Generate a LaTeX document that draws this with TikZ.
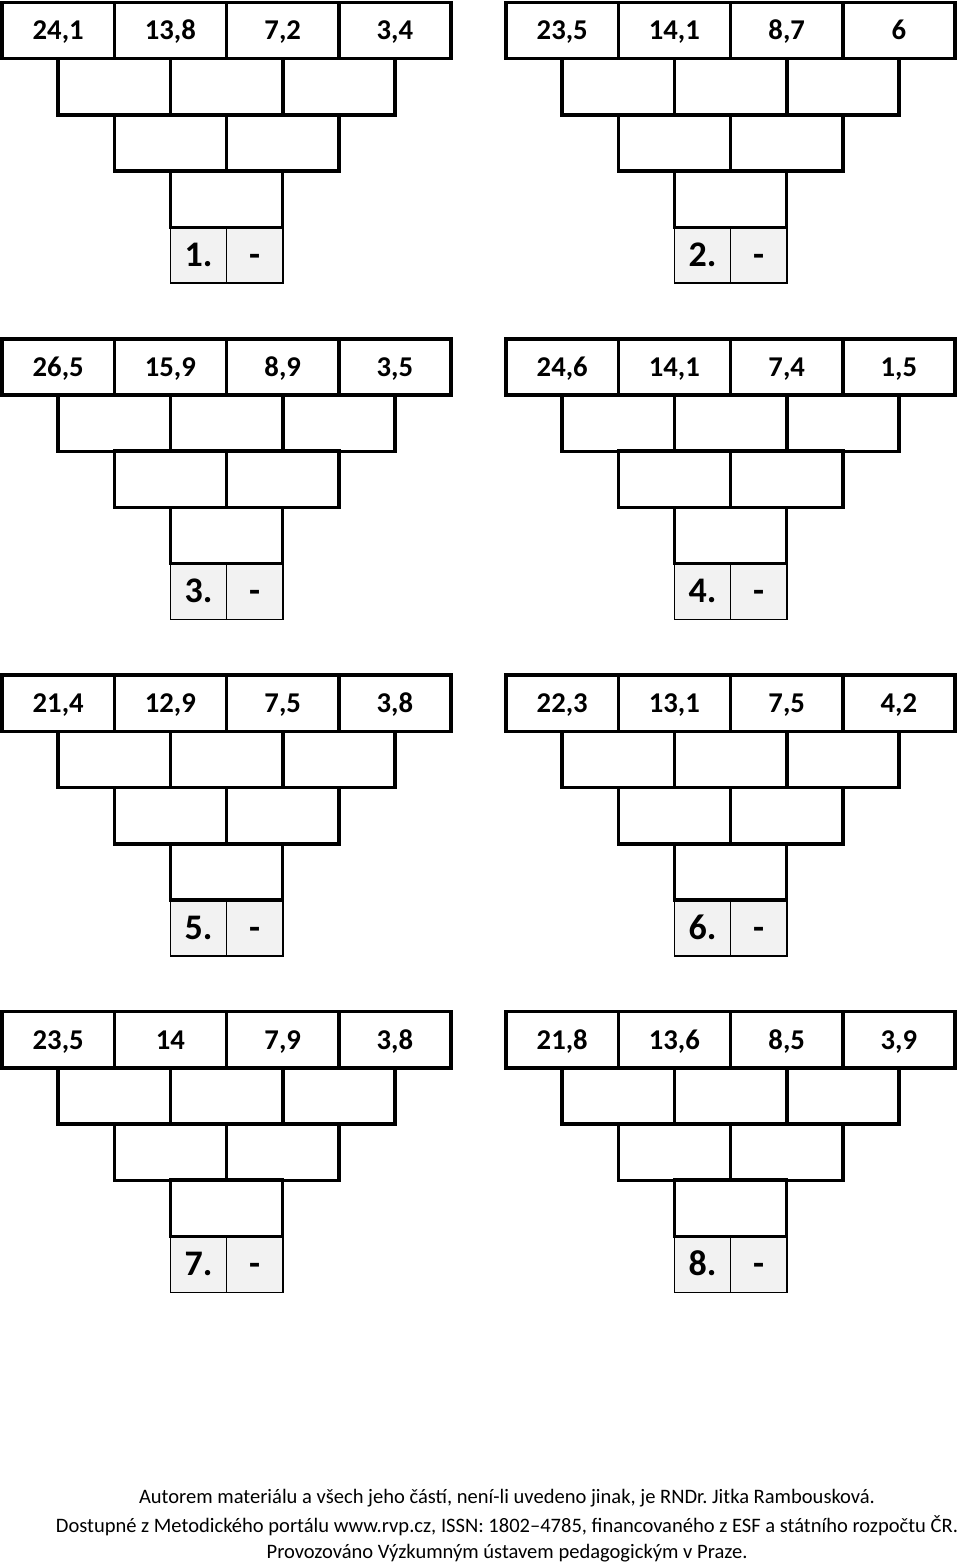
\documentclass[tikz,border=0pt]{standalone}
\usepackage{fontspec}
\setmainfont{Carlito}
\frenchspacing
\definecolor{halfgray}{HTML}{F2F2F2}
\tikzset{
 cell/.style={draw, line width=2.6pt, minimum width=84.2pt, minimum height=42.2pt, inner sep=0pt, text height=14pt, text depth=0pt, font=\bfseries\fontsize{21.5}{25}\selectfont},
 half/.style={draw, line width=1.1pt, fill=halfgray, minimum width=42.1pt, minimum height=42.2pt, inner sep=0pt, text height=17pt, text depth=0pt, font=\bfseries\fontsize{27}{32}\selectfont},
 foot/.style={inner sep=0pt, font=\fontsize{15.4}{18}\selectfont}
}
\newcommand\pyramid[8]{%
 \begin{scope}[shift={(#2,#3)}]
  \node[half] (#1-a) at (198.5,255) {#8};
  \node[half] (#1-b) at (254.7,255) {-};
  \node[cell] (#1-11) at (58.2,30.5) {#4};
  \node[cell] (#1-12) at (170.4,30.5) {#5};
  \node[cell] (#1-13) at (282.7,30.5) {#6};
  \node[cell] (#1-14) at (394.9,30.5) {#7};
  \node[cell] (#1-21) at (114.3,86.7) {};
  \node[cell] (#1-22) at (226.6,86.7) {};
  \node[cell] (#1-23) at (338.9,86.7) {};
  \node[cell] (#1-31) at (170.4,142.9) {};
  \node[cell] (#1-32) at (282.7,142.9) {};
  \node[cell] (#1-41) at (226.6,199.1) {};
 \end{scope}}
\begin{document}
\begin{tikzpicture}[x=0.75pt,y=-0.75pt]
\useasboundingbox (0,0) rectangle (960,1566);
\pyramid{p1}{0}{0}{24,1}{13,8}{7,2}{3,4}{1.}
\pyramid{p2}{504}{0}{23,5}{14,1}{8,7}{6}{2.}
\pyramid{p3}{0}{336.4}{26,5}{15,9}{8,9}{3,5}{3.}
\pyramid{p4}{504}{336.4}{24,6}{14,1}{7,4}{1,5}{4.}
\pyramid{p5}{0}{672.8}{21,4}{12,9}{7,5}{3,8}{5.}
\pyramid{p6}{504}{672.8}{22,3}{13,1}{7,5}{4,2}{6.}
\pyramid{p7}{0}{1009.2}{23,5}{14}{7,9}{3,8}{7.}
\pyramid{p8}{504}{1009.2}{21,8}{13,6}{8,5}{3,9}{8.}
\node[foot] (f1) at (507,1498) {Autorem materiálu a všech jeho částí, není-li uvedeno jinak, je RNDr. Jitka Rambousková.};
\node[foot] (f2) at (507,1526) {Dostupné z Metodického portálu www.rvp.cz, ISSN: 1802–4785, financovaného z ESF a státního rozpočtu ČR.};
\node[foot] (f3) at (507,1553) {Provozováno Výzkumným ústavem pedagogickým v Praze.};
\end{tikzpicture}
\end{document}
